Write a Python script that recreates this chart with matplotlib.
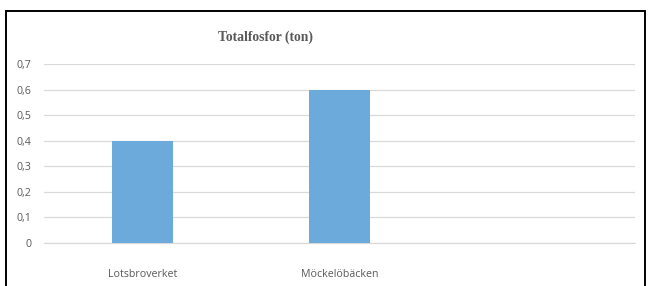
import matplotlib.pyplot as plt
from matplotlib.patches import Rectangle
from matplotlib.ticker import FuncFormatter

# data
categories = ["Lotsbroverket", "Möckelöbäcken", ""]
values = [0.4, 0.6, 0.0]
yticks = [0, 0.1, 0.2, 0.3, 0.4, 0.5, 0.6, 0.7]

bar_c = "#6DAADC"
grid_c = "#D9D9D9"
txt_c = "#595959"

fig = plt.figure(figsize=(6.48, 2.86), dpi=100)
fig.patch.set_facecolor("white")

# outer black frame like the pasted Excel chart
fig.patches.append(Rectangle((6 / 648, -0.05), 639 / 648, 1.05 - 11 / 286,
                             transform=fig.transFigure, fill=False,
                             edgecolor="black", lw=1.4))

ax = fig.add_axes([44 / 648, 1 - 243 / 286, 591 / 648, (243 - 64) / 286])
x = list(range(len(categories)))
ax.bar(x[:2], values[:2], width=0.31, color=bar_c, zorder=3)
ax.set_xlim(-0.5, len(categories) - 0.5)
ax.set_ylim(0, 0.7)
ax.set_yticks(yticks)
ax.yaxis.set_major_formatter(FuncFormatter(
    lambda v, _: "0" if v == 0 else f"{v:.1f}".replace(".", ",")))
ax.set_xticks(x)
ax.set_xticklabels(categories)
ax.grid(axis="y", color=grid_c, lw=0.9, zorder=0)
ax.axhline(0, color=grid_c, lw=0.9, zorder=1, clip_on=False)
for sp in ax.spines.values():
    sp.set_visible(False)
ax.tick_params(axis="y", length=0, pad=9, labelsize=7.7, labelcolor=txt_c)
ax.tick_params(axis="x", length=0, pad=19, labelsize=7.7, labelcolor=txt_c)
for lab in ax.get_xticklabels() + ax.get_yticklabels():
    lab.set_family("Open Sans")

fig.text(266 / 648, 1 - 37 / 286, "Totalfosfor (ton)", ha="center",
         va="center", fontsize=9.8, fontweight="bold",
         family="Liberation Serif", color=txt_c)

fig.savefig("out.png", dpi=100)
